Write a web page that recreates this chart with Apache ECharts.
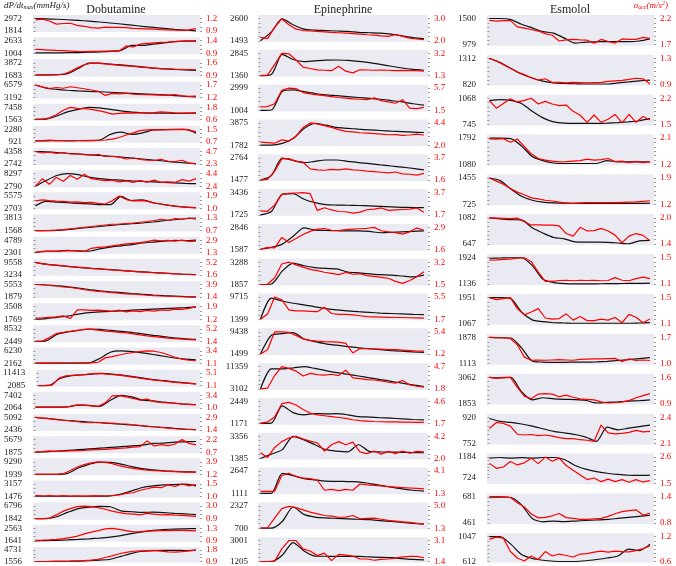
<!DOCTYPE html>
<html>
<head>
<meta charset="utf-8">
<script src="https://cdn.jsdelivr.net/npm/echarts@6/dist/echarts.min.js"></script>
<style>
html, body { margin: 0; padding: 0; background: #fff; }
#chart { width: 676px; height: 566px; }
</style>
</head>
<body>
<div id="chart"></div>
<script>
// tick labels per panel: [upper, lower]
const dobLeftTicks = [[2972,1814],[2633,1004],[3872,1683],[6579,3192],[7458,1563],[2280,921],[4358,2742],[8297,2790],[5575,2703],[3813,1568],[4789,2301],[9558,3234],[5553,1879],[3508,1769],[8532,2449],[6230,2162],[11413,2085],[7402,2064],[5092,2436],[5679,1875],[9290,1939],[3157,1476],[6796,1842],[2563,1641],[4731,1556]];
const dobRightTicks = [[1.2,0.9],[1.4,0.9],[1.6,0.9],[1.7,1.2],[1.8,0.6],[1.5,0.7],[4.7,2.3],[4.4,2.4],[1.9,1.0],[1.3,0.7],[2.9,1.3],[5.2,1.6],[3.9,1.4],[1.9,1.2],[5.2,1.4],[3.4,1.1],[5.1,1.1],[3.4,1.0],[2.9,1.4],[2.2,0.7],[3.9,1.2],[1.5,1.0],[3.0,0.9],[1.3,0.9],[1.8,0.9]];
const epiLeftTicks = [[2600,1493],[2845,1360],[2999,1004],[3875,1782],[2764,1477],[3436,1725],[2846,1587],[3288,1857],[9715,1399],[9438,1499],[11359,3102],[2449,1171],[3356,1385],[2647,1111],[2327,700],[3001,1205]];
const epiRightTicks = [[3.0,2.0],[3.2,1.3],[5.7,1.5],[4.4,2.0],[3.7,1.6],[3.7,1.7],[2.9,1.6],[3.2,1.5],[5.5,1.7],[5.4,1.2],[4.7,1.8],[4.6,1.7],[4.2,2.0],[4.1,1.3],[5.0,1.3],[3.1,1.4]];
const esmLeftTicks = [[1500,979],[1312,820],[1068,745],[1792,1080],[1455,725],[1082,647],[1924,1136],[1951,1067],[1878,1113],[3062,1853],[920,752],[1184,724],[681,461],[1047,612]];
const esmRightTicks = [[2.2,1.7],[1.3,0.9],[2.2,1.5],[2.1,1.2],[1.9,1.2],[2.0,1.4],[1.5,1.1],[1.5,1.1],[1.7,1.0],[1.6,0.9],[2.4,2.1],[2.6,1.5],[1.4,0.8],[1.2,0.6]];

// series values, in percent of the span between the two tick labels (0 = lower, 100 = upper)
// dP/dt max (black)
const dobBlack = [
  [100,97,94,90,85,79,72,64,56,47,38,30,22,14,7,2],
  [3,3,3,4,5,8,11,15,22,62,62,72,82,92,97,98],
  [3,4,6,14,55,97,97,90,83,76,68,58,52,47,43,40],
  [100,75,65,58,53,49,46,42,38,34,30,26,21,16,10,5],
  [3,4,30,62,82,98,95,82,70,60,55,53,52,51,51,52],
  [8,8,10,8,9,10,14,60,78,60,72,95,98,100,100,70],
  [100,97,92,86,80,74,68,62,56,48,40,32,24,16,9,3],
  [0,45,85,100,92,72,60,52,48,42,38,34,30,26,22,20],
  [20,55,50,45,40,36,30,30,95,62,68,45,30,18,10,6],
  [0,0,2,8,16,24,32,40,48,54,60,68,78,86,94,100],
  [2,10,12,18,14,12,30,45,55,65,78,85,92,98,96,100],
  [100,85,76,68,60,53,47,41,35,29,24,19,14,9,5,1],
  [100,96,90,82,72,60,50,42,35,28,22,16,11,7,3,1],
  [0,5,15,25,40,52,58,62,66,72,76,80,84,88,92,98],
  [0,4,55,75,88,98,96,88,80,72,60,48,38,28,20,15],
  [3,3,3,3,3,5,40,90,100,95,85,72,58,44,35,30],
  [0,2,55,78,85,92,98,92,85,72,60,48,40,30,22,15],
  [5,6,6,8,22,20,12,60,100,88,62,55,45,38,30,25],
  [100,92,84,76,70,64,58,52,46,40,33,26,20,13,7,2],
  [0,3,8,14,20,26,32,38,44,50,56,70,72,80,82,85],
  [0,0,0,8,50,80,98,95,82,62,45,35,28,24,20,18],
  [3,2,2,2,2,2,3,5,20,45,72,85,92,95,98,85],
  [0,1,15,50,80,92,98,95,62,55,50,52,48,42,38,32],
  [0,2,4,7,11,16,22,30,42,58,72,84,90,94,96,98],
  [0,0,1,2,4,7,12,20,45,72,90,96,98,98,96,100]
];
// sigma acc (red)
const dobRed = [
  [88,95,80,55,60,62,45,38,28,24,32,30,30,27,22,20,18,15,12,10,8,6,10,20],
  [30,28,25,22,20,17,14,12,14,15,16,17,18,58,50,72,78,82,86,88,92,96,98,92],
  [2,3,4,5,9,30,60,85,98,96,92,86,80,76,72,66,62,58,54,53,50,49,47,45],
  [100,85,72,80,74,86,78,70,60,50,17,33,30,34,28,26,24,22,20,18,24,14,10,12],
  [3,4,15,40,75,98,90,88,82,72,60,45,50,55,52,54,55,56,62,58,54,53,55,55],
  [10,10,14,10,10,11,11,10,12,12,15,22,35,55,72,90,95,97,96,98,97,99,96,80],
  [100,88,95,85,92,80,82,75,70,78,60,62,55,40,48,36,30,28,38,22,20,30,8,2],
  [0,60,15,70,40,85,55,95,60,52,45,48,35,42,30,45,32,48,30,35,30,52,40,60],
  [60,68,62,58,55,50,52,45,48,40,35,60,98,70,60,62,58,42,35,25,18,12,8,4],
  [0,0,1,4,8,14,20,26,32,38,44,50,52,56,60,66,72,80,90,82,96,90,100,90],
  [3,10,12,10,14,16,12,10,35,42,46,55,62,70,75,80,88,100,95,98,92,100,90,92],
  [100,88,82,78,72,66,62,57,52,48,44,40,36,32,28,24,20,17,14,11,8,5,3,1],
  [100,98,92,88,80,76,68,58,50,45,40,35,30,25,22,18,14,11,8,6,4,2,1,0],
  [8,10,14,18,26,5,75,74,70,72,68,62,72,58,66,60,70,64,74,70,80,78,86,100],
  [0,2,30,62,72,80,88,95,96,90,82,78,72,68,60,52,44,38,32,26,22,18,14,12],
  [2,3,3,3,4,4,4,5,5,10,45,55,68,80,88,95,100,98,88,70,50,35,26,22],
  [0,2,5,60,78,82,86,90,96,98,92,88,82,74,66,58,50,44,38,32,26,22,18,14],
  [5,6,6,6,8,12,24,22,15,12,40,95,98,88,75,62,70,50,44,40,35,30,28,25],
  [100,95,90,82,78,72,66,60,58,62,55,56,50,48,42,36,30,24,20,15,10,6,4,2],
  [2,5,10,6,8,10,12,14,18,20,22,26,30,34,40,44,90,50,60,52,65,100,70,58],
  [0,0,0,0,5,30,58,78,92,100,96,85,70,58,48,40,34,30,27,24,22,20,18,17],
  [10,3,8,3,8,3,6,3,5,6,4,8,12,25,30,50,62,75,70,92,80,100,85,95],
  [0,1,5,30,60,80,96,100,96,88,75,60,48,40,36,30,42,36,30,32,28,26,22,18],
  [3,5,8,12,18,26,38,55,70,82,95,100,92,82,72,74,78,80,82,82,84,84,82,80],
  [0,0,0,1,2,3,5,8,12,18,35,50,68,80,90,94,96,98,92,84,82,86,94,100]
];
const epiBlack = [
  [0,40,98,72,52,48,46,44,42,38,36,34,30,22,14,10],
  [0,5,95,72,63,66,69,70,68,64,58,50,42,34,28,24],
  [0,2,85,92,84,76,70,66,62,58,54,50,44,38,30,24],
  [0,0,8,30,75,98,90,80,76,72,69,66,63,61,59,57],
  [0,20,98,88,78,84,90,90,84,78,74,68,63,58,52,46],
  [0,15,92,95,70,55,46,44,43,42,40,38,36,34,33,32],
  [2,10,25,60,98,88,86,85,84,84,82,76,78,80,82,84],
  [0,2,60,96,84,76,72,70,56,52,48,44,42,38,34,42],
  [0,95,82,72,65,56,48,42,38,34,31,28,26,24,22,21],
  [0,85,92,96,68,56,46,40,34,28,24,20,16,13,10,8],
  [0,90,90,94,100,92,82,73,66,58,50,42,34,26,18,11],
  [2,3,80,50,40,46,44,45,40,32,30,27,25,22,19,17],
  [0,20,40,100,84,62,40,33,30,62,32,30,29,28,27,26],
  [0,0,90,80,66,60,55,54,53,52,44,36,28,20,14,10],
  [0,0,30,95,62,50,46,44,42,40,38,34,30,26,22,18],
  [0,0,30,90,50,26,25,24,24,24,22,20,18,14,10,8]
];
const epiRed = [
  [15,10,60,98,72,52,46,44,42,40,38,36,34,32,30,27,25,22,20,28,20,12,8,5],
  [0,2,50,100,98,70,38,32,26,24,22,42,20,12,26,25,24,25,24,22,23,22,22,20],
  [16,17,30,90,100,98,80,74,70,66,62,58,55,52,50,48,56,44,38,32,48,10,8,14],
  [14,12,9,24,18,40,80,100,96,88,80,70,62,60,56,54,52,50,47,48,44,46,50,46],
  [0,3,40,95,96,84,80,50,46,44,48,46,50,46,44,40,38,35,32,36,28,26,22,30],
  [18,16,45,92,96,98,100,95,20,32,22,15,14,8,12,23,26,31,20,22,24,26,31,12],
  [2,10,8,55,32,50,68,82,92,95,87,86,90,92,94,96,100,85,80,76,70,80,97,87],
  [0,1,30,92,100,88,78,68,62,55,50,44,54,46,48,40,36,32,28,14,5,18,35,57],
  [0,24,100,88,42,38,38,36,34,54,26,22,22,20,16,12,11,10,9,8,8,7,6,5],
  [0,20,100,100,98,84,68,62,58,56,55,54,48,5,25,24,22,22,20,20,18,16,14,13],
  [0,4,60,100,92,80,58,70,64,62,66,60,84,50,46,42,40,36,30,26,38,18,12,8],
  [2,8,30,90,96,84,64,48,40,36,32,28,24,18,14,12,10,9,8,8,7,7,6,6],
  [26,5,50,76,92,100,88,78,70,34,62,76,62,74,30,22,34,20,32,22,34,24,32,30],
  [9,9,9,80,90,76,68,66,60,14,18,12,18,14,42,38,36,34,30,28,26,24,22,20],
  [0,2,45,88,98,92,82,72,64,57,54,49,50,57,42,44,45,40,35,32,28,26,22,18],
  [0,0,2,60,100,100,60,50,28,40,4,34,30,26,12,12,6,10,12,16,22,24,24,18]
];
const esmBlack = [
  [100,100,96,78,64,50,44,25,6,10,11,12,12,12,14,22],
  [100,84,62,40,25,13,6,4,3,2,2,2,6,10,14,17],
  [91,95,92,80,50,25,10,5,4,4,4,5,7,10,14,22],
  [100,100,98,70,30,14,5,3,3,3,3,14,9,9,9,9],
  [100,90,58,30,15,8,5,4,3,3,3,3,3,3,3,4],
  [100,96,93,92,62,42,25,20,8,7,7,6,4,1,12,14],
  [98,99,100,100,70,18,5,1,0,0,0,1,1,2,2,3],
  [100,100,96,45,15,8,4,3,2,2,2,2,2,2,3,4],
  [100,99,98,60,10,6,5,5,6,6,7,9,12,15,19,23],
  [100,98,100,45,14,22,18,16,15,12,2,4,6,9,11,14],
  [95,84,80,74,66,56,46,40,34,24,8,62,52,58,64,70],
  [95,98,95,97,95,98,98,88,58,40,28,20,14,10,9,11],
  [100,100,98,70,18,5,8,6,8,10,12,14,18,22,26,30],
  [100,100,70,28,12,5,1,0,0,3,8,14,22,50,44,70]
];
const esmRed = [
  [93,90,92,92,68,63,58,52,42,36,14,18,20,18,17,6,20,12,6,22,20,20,28,24],
  [100,90,76,62,48,38,26,17,22,8,8,6,8,7,6,7,8,12,14,16,20,24,22,2],
  [91,62,80,98,85,92,100,78,88,78,72,74,50,35,8,36,8,20,38,6,38,8,30,17],
  [97,96,98,84,96,68,40,22,16,12,9,10,12,14,20,16,18,22,10,12,6,11,6,10],
  [100,88,76,60,46,36,24,20,15,12,8,4,3,5,6,6,6,6,6,7,8,9,11,13],
  [100,99,98,97,99,85,73,73,72,72,69,40,30,64,50,51,60,50,34,5,30,40,33,13],
  [91,92,94,95,98,100,85,45,10,10,13,14,12,14,13,14,12,13,24,14,12,20,26,20],
  [100,92,96,100,58,34,45,58,22,18,20,38,14,28,12,12,18,14,24,4,36,25,4,18],
  [100,99,98,96,72,25,13,14,13,14,15,14,13,16,17,18,18,19,20,8,18,12,14,12],
  [100,96,100,100,62,28,18,36,38,36,26,32,24,18,16,14,6,2,3,6,11,22,30,38],
  [57,80,76,66,35,32,34,30,32,28,22,18,18,14,12,8,70,40,36,38,42,50,44,46],
  [76,57,62,83,70,78,96,75,100,84,96,68,50,32,14,20,6,16,6,14,4,14,5,10],
  [97,98,99,98,78,62,35,20,22,28,37,21,18,14,14,16,18,26,36,44,48,51,31,37],
  [89,98,94,40,14,2,22,8,40,22,30,24,18,30,32,38,42,38,42,40,39,44,52,63]
];

const TOP = 15;
const PLOT_H = 549;
const PAD_TOP = 3.5;
const PAD_BOT = 1;

const grids = [];
const xAxes = [];
const yAxes = [];
const series = [];

function makeY(gi, pos, ticks, h, padBot, color, fmt, margin) {
  const hi = ticks[0], lo = ticks[1];
  const span = hi - lo;
  const unit = span / (h - PAD_TOP - padBot);
  const m = Math.max(2, Math.round((h - 5) / 4.3));
  const minor = [];
  for (let j = 0; j <= m; j++) minor.push(lo + span * j / m);
  return {
    type: 'value', gridIndex: gi, position: pos,
    min: lo - padBot * unit, max: hi + PAD_TOP * unit,
    axisLine: {show: false}, splitLine: {show: false},
    axisTick: {show: true, customValues: minor, length: 2, lineStyle: {color: '#9a9a9a', width: 1}},
    axisLabel: {customValues: [lo, hi], formatter: fmt, color: color, fontSize: 9,
      fontFamily: 'Liberation Serif', margin: margin}
  };
}

function makeLine(gi, yi, pts, ticks, color, smooth) {
  const hi = ticks[0], lo = ticks[1];
  return {
    type: 'line', xAxisIndex: gi, yAxisIndex: yi, showSymbol: false, symbol: 'none',
    smooth: smooth, silent: true, animation: false,
    lineStyle: {color: color, width: 1.2},
    data: pts.map((p, i) => [i / (pts.length - 1), lo + p / 100 * (hi - lo)])
  };
}

function addColumn(col, leftTicks, rightTicks, black, red, blackPadBot) {
  const n = leftTicks.length;
  const h = PLOT_H / (1.3 * n - 0.3);
  for (let k = 0; k < n; k++) {
    const gi = grids.length;
    grids.push({left: col.left, top: TOP + k * 1.3 * h, width: col.width, height: h,
      show: true, backgroundColor: '#eaeaf2', borderWidth: 0});
    xAxes.push({type: 'value', gridIndex: gi, min: -0.015, max: 1.025, show: false});
    const yl = yAxes.length;
    const pb = (blackPadBot && blackPadBot[k] != null) ? blackPadBot[k] : PAD_BOT;
    yAxes.push(makeY(gi, 'left', leftTicks[k], h, pb, '#222', v => String(Math.round(v)), col.lm));
    yAxes.push(makeY(gi, 'right', rightTicks[k], h, PAD_BOT, '#ff0000', v => v.toFixed(1), 6));
    series.push(makeLine(gi, yl, black[k], leftTicks[k], '#111', 0.25));
    series.push(makeLine(gi, yl + 1, red[k], rightTicks[k], '#ff0000', 0));
  }
}

addColumn({left: 33, width: 167, lm: 11}, dobLeftTicks, dobRightTicks, dobBlack, dobRed);
addColumn({left: 258, width: 170, lm: 10}, epiLeftTicks, epiRightTicks, epiBlack, epiRed);
addColumn({left: 487, width: 167, lm: 11}, esmLeftTicks, esmRightTicks, esmBlack, esmRed, {11: 7});

const chart = echarts.init(document.getElementById('chart'), null, {renderer: 'canvas'});
chart.setOption({
  animation: false,
  backgroundColor: '#fff',
  title: [
    {text: '{i|dP/dt}{s|max}{i|(mmHg/s)}', left: 4, top: 0, padding: 0,
      textStyle: {fontWeight: 'normal', rich: {
        i: {fontFamily: 'Liberation Serif', fontStyle: 'italic', fontWeight: 'normal', fontSize: 9, color: '#222', lineHeight: 11},
        s: {fontFamily: 'Liberation Serif', fontStyle: 'italic', fontWeight: 'normal', fontSize: 6, color: '#222', lineHeight: 11, padding: [4, 0, 0, 0]}
      }}},
    {text: '{i|σ}{s|acc}{i|(m/s}{p|2}{i|)}', right: 8, top: 0, padding: 0,
      textStyle: {fontWeight: 'normal', rich: {
        i: {fontFamily: 'Liberation Serif', fontStyle: 'italic', fontWeight: 'normal', fontSize: 9, color: '#ff0000', lineHeight: 11},
        s: {fontFamily: 'Liberation Serif', fontStyle: 'italic', fontWeight: 'normal', fontSize: 6, color: '#ff0000', lineHeight: 11, padding: [4, 0, 0, 0]},
        p: {fontFamily: 'Liberation Serif', fontStyle: 'italic', fontWeight: 'normal', fontSize: 6, color: '#ff0000', lineHeight: 11, padding: [0, 0, 4, 0]}
      }}}
  ],
  graphic: [
    {type: 'text', x: 116, y: 10, style: {text: 'Dobutamine', font: '12px "Liberation Serif"', fill: '#222', align: 'center', verticalAlign: 'middle'}},
    {type: 'text', x: 343, y: 10, style: {text: 'Epinephrine', font: '12px "Liberation Serif"', fill: '#222', align: 'center', verticalAlign: 'middle'}},
    {type: 'text', x: 570, y: 10, style: {text: 'Esmolol', font: '12px "Liberation Serif"', fill: '#222', align: 'center', verticalAlign: 'middle'}}
  ],
  grid: grids,
  xAxis: xAxes,
  yAxis: yAxes,
  series: series
});
</script>
</body>
</html>
